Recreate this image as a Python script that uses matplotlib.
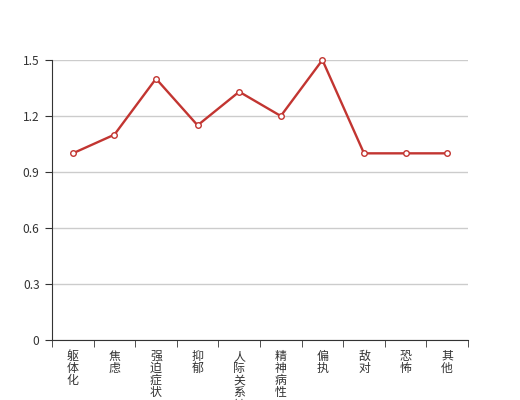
import numpy as np
import matplotlib
matplotlib.use('Agg')
import matplotlib.pyplot as plt

plt.rcParams['font.family'] = ['Noto Sans CJK SC', 'DejaVu Sans']

categories = ["躯体化", "焦虑", "强迫症状", "抑郁", "人际关系敏感", "精神病性", "偏执", "敌对", "恐怖", "其他"]
scores = [1.0, 1.1, 1.4, 1.15, 1.33, 1.2, 1.5, 1.0, 1.0, 1.0]
yticks = [0, 0.3, 0.6, 0.9, 1.2, 1.5]

fig = plt.figure(figsize=(5.2, 4.0), dpi=100)
ax = fig.add_axes([0.1, 0.15, 0.8, 0.7])

x = np.arange(len(categories))
ax.plot(x, scores, color='#c23531', linewidth=1.7, marker='o', markersize=4,
        markerfacecolor='white', markeredgecolor='#c23531', markeredgewidth=1, zorder=3,
        clip_on=False)

ax.set_xlim(-0.5, len(categories) - 0.5)
ax.set_ylim(0, 1.5)
ax.set_yticks(yticks)
ax.set_yticklabels(["0", "0.3", "0.6", "0.9", "1.2", "1.5"])
ax.grid(axis='y', color='#cccccc', linewidth=1)
ax.set_axisbelow(True)

ax.set_xticks(x)
ax.set_xticklabels(["\n".join(c) for c in categories], linespacing=0.92, va='top')
ax.set_xticks(np.arange(len(categories) + 1) - 0.5, minor=True)
ax.tick_params(axis='x', which='major', length=0, pad=7, labelsize=8.6, labelcolor='#333333')
ax.tick_params(axis='x', which='minor', length=5, color='#333333')
ax.tick_params(axis='y', length=5, color='#333333', labelsize=8.6, labelcolor='#333333', pad=4)

for s in ['top', 'right']:
    ax.spines[s].set_visible(False)
for s in ['left', 'bottom']:
    ax.spines[s].set_color('#333333')

fig.savefig('out.png', dpi=100)
